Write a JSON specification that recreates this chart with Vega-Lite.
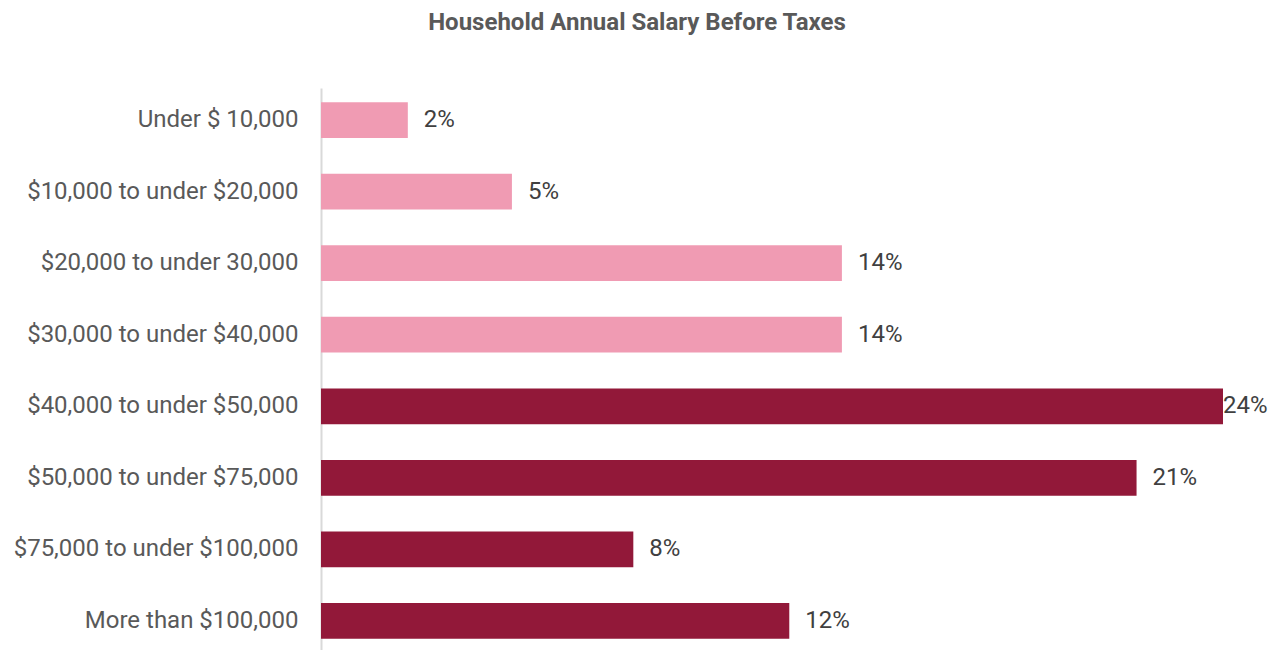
{
  "$schema": "https://vega.github.io/schema/vega-lite/v6.json",
  "width": 902,
  "height": 565,
  "autosize": "none",
  "padding": {"left": 321, "top": 88, "right": 46, "bottom": 0},
  "background": "white",
  "config": {"view": {"stroke": null}, "font": "Roboto"},
  "title": {
    "text": "Household Annual Salary Before Taxes",
    "font": "Roboto",
    "fontSize": 24,
    "fontWeight": "bold",
    "color": "#595959",
    "anchor": "middle",
    "dx": -135,
    "offset": 53
  },
  "data": {
    "values": [
      {"range": "Under $ 10,000", "value": 0.0231, "label": "2%", "group": "low"},
      {"range": "$10,000 to under $20,000", "value": 0.0508, "label": "5%", "group": "low"},
      {"range": "$20,000 to under 30,000", "value": 0.1386, "label": "14%", "group": "low"},
      {"range": "$30,000 to under $40,000", "value": 0.1386, "label": "14%", "group": "low"},
      {"range": "$40,000 to under $50,000", "value": 0.24, "label": "24%", "group": "high"},
      {"range": "$50,000 to under $75,000", "value": 0.217, "label": "21%", "group": "high"},
      {"range": "$75,000 to under $100,000", "value": 0.0831, "label": "8%", "group": "high"},
      {"range": "More than $100,000", "value": 0.1246, "label": "12%", "group": "high"}
    ]
  },
  "encoding": {
    "y": {
      "field": "range",
      "type": "nominal",
      "sort": null,
      "scale": {"paddingInner": 0.5, "paddingOuter": 0.2},
      "axis": {
        "title": null,
        "ticks": false,
        "domainColor": "#d9d9d9",
        "domainWidth": 2,
        "labelFont": "Roboto",
        "labelFontSize": 24,
        "labelColor": "#595959",
        "labelPadding": 23,
        "labelLimit": 400
      }
    },
    "x": {
      "field": "value",
      "type": "quantitative",
      "scale": {"domain": [0, 0.24], "nice": false},
      "axis": null
    }
  },
  "layer": [
    {
      "mark": {"type": "bar"},
      "encoding": {
        "color": {
          "field": "group",
          "type": "nominal",
          "scale": {"domain": ["low", "high"], "range": ["#F09BB3", "#921839"]},
          "legend": null
        }
      }
    },
    {
      "transform": [{"filter": "datum.value < 0.235"}],
      "mark": {"type": "text", "align": "left", "dx": 16, "font": "Roboto", "fontSize": 24, "color": "#404040"},
      "encoding": {"text": {"field": "label"}}
    },
    {
      "transform": [{"filter": "datum.value >= 0.235"}],
      "mark": {"type": "text", "align": "left", "dx": 0, "font": "Roboto", "fontSize": 24, "color": "#404040"},
      "encoding": {"text": {"field": "label"}}
    }
  ]
}
